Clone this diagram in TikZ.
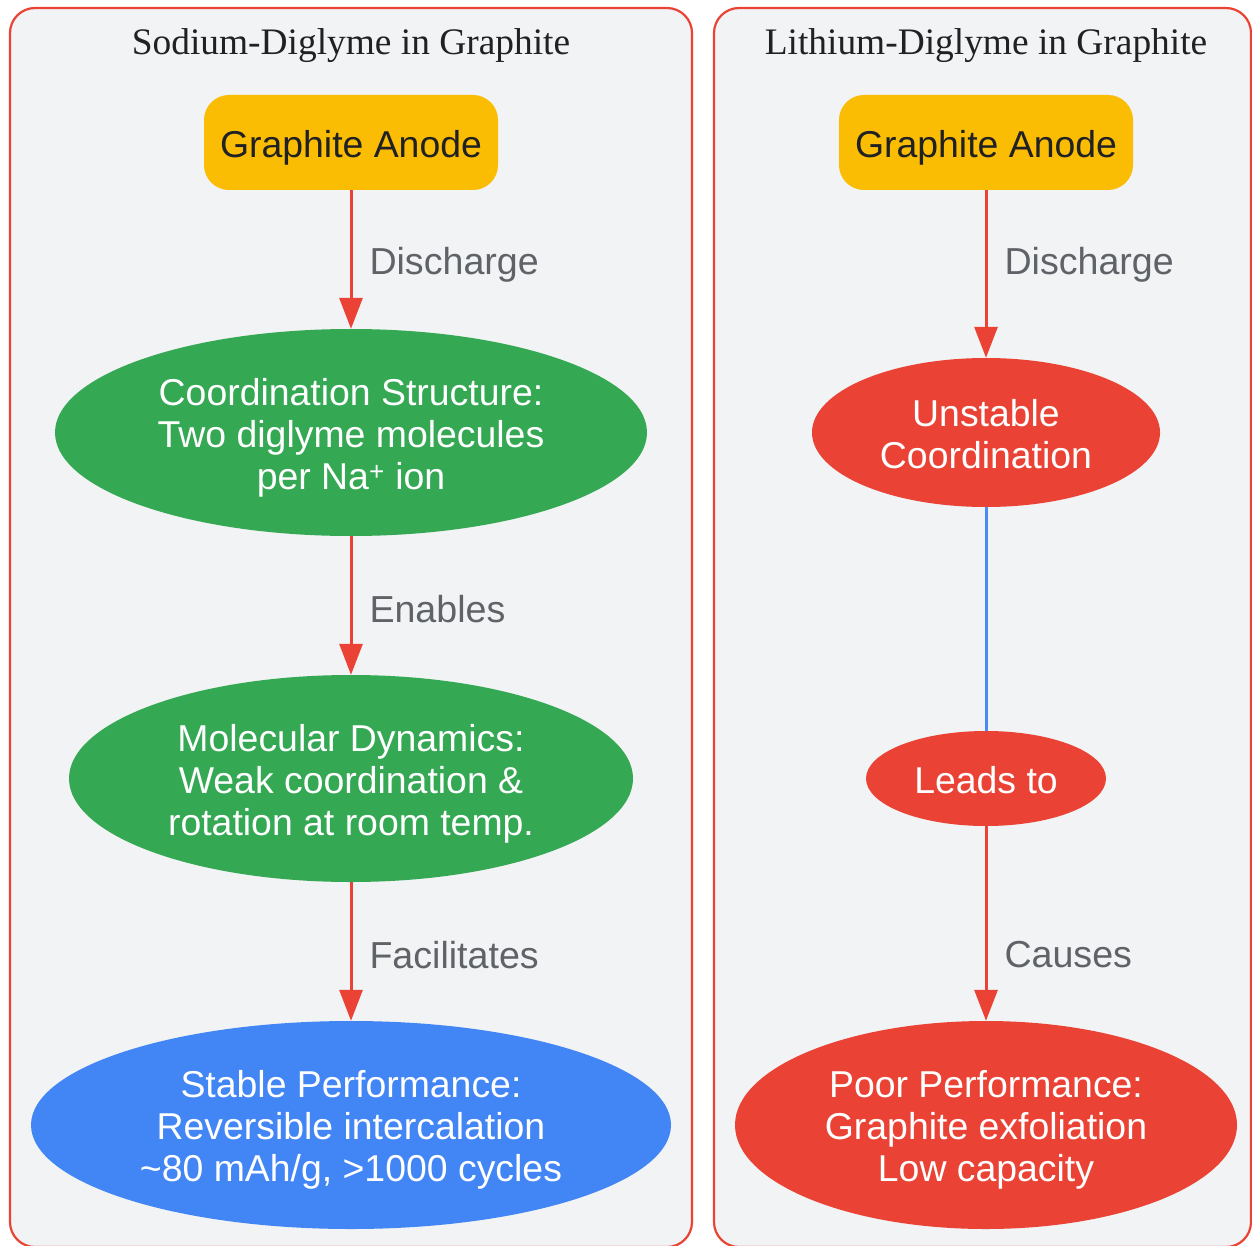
\documentclass[tikz,border=0pt]{standalone}
\usepackage{fontspec}
\setmainfont{Liberation Sans}
\newfontfamily\titlefont{Liberation Serif}
\usetikzlibrary{shapes.geometric,arrows.meta}
\definecolor{gred}{HTML}{EA4335}
\definecolor{ggreen}{HTML}{34A853}
\definecolor{gblue}{HTML}{4285F4}
\definecolor{gyellow}{HTML}{FBBC04}
\definecolor{clusterbg}{HTML}{F1F3F4}
\definecolor{labelgray}{HTML}{5F6368}
\definecolor{darktext}{HTML}{202124}
\definecolor{linkblue}{HTML}{4A8AF4}
\newcommand{\tstrut}{\rule{0pt}{37pt}}
\newcommand{\bstrut}{\rule[-7.9pt]{0pt}{7.9pt}}
\tikzset{
  cluster/.style={draw=gred, line width=2.2pt, fill=clusterbg, rounded corners=25pt},
  ctitle/.style={font=\titlefont\fontsize{37.4}{42}\selectfont, text=darktext, inner sep=0pt},
  anode/.style={rectangle, rounded corners=25pt, fill=gyellow, text=darktext,
    minimum width=294pt, minimum height=95pt, inner sep=0pt,
    font=\fontsize{37.4}{42}\selectfont},
  ell/.style={ellipse, inner sep=0pt, text=white, align=center,
    font=\fontsize{37.4}{42}\selectfont},
  flow/.style={draw=gred, line width=3pt, -{Triangle[length=31pt,width=23pt]}},
  plain/.style={draw=linkblue, line width=3pt},
  elabel/.style={anchor=west, inner sep=0pt, xshift=17pt, yshift=-4pt, text=labelgray,
    text height=27.4pt, text depth=7.9pt,
    font=\fontsize{37.6}{42}\selectfont},
}
\begin{document}
\begin{tikzpicture}[x=1pt,y=-1pt]
\useasboundingbox (0,0) rectangle (1252,1246);
\clip (0,0) rectangle (1252,1246);
\fill[white] (0,0) rectangle (1252,1246);
% clusters
\draw[cluster] (10,8) rectangle (692,1247);
\draw[cluster] (714,8) rectangle (1251,1247);
\node[ctitle] (t1) at (351,46) {Sodium-Diglyme in Graphite};
\node[ctitle] (t2) at (986,46) {Lithium-Diglyme in Graphite};
% left column
\node[anode] (ga1) at (351,142.5) {\tstrut Graphite Anode\bstrut};
\node[ell, fill=ggreen, minimum width=592pt, minimum height=207pt] (cs) at (351,432.5)
  {\tstrut Coordination Structure:\\Two diglyme molecules\\per Na\textsuperscript{+} ion\bstrut};
\node[ell, fill=ggreen, minimum width=564pt, minimum height=207pt] (md) at (351,778.5)
  {\tstrut Molecular Dynamics:\\Weak coordination \&\\rotation at room temp.\bstrut};
\node[ell, fill=gblue, minimum width=640pt, minimum height=208pt] (sp) at (351,1125)
  {\tstrut Stable Performance:\\Reversible intercalation\\\textasciitilde 80 mAh/g, >1000 cycles\bstrut};
% right column
\node[anode] (ga2) at (986,142.5) {\tstrut Graphite Anode\bstrut};
\node[ell, fill=gred, minimum width=348pt, minimum height=149pt] (uc) at (986,432.5)
  {\tstrut Unstable\\Coordination\bstrut};
\node[ell, fill=gred, minimum width=240pt, minimum height=95pt] (lt) at (986,778.5)
  {\tstrut Leads to\bstrut};
\node[ell, fill=gred, minimum width=502pt, minimum height=208pt] (pp) at (986,1125)
  {\tstrut Poor Performance:\\Graphite exfoliation\\Low capacity\bstrut};
% edges
\draw[flow] (ga1) -- node[elabel, pos=0.51] {Discharge} (cs);
\draw[flow] (cs) -- node[elabel, pos=0.52] {Enables} (md);
\draw[flow] (md) -- node[elabel, pos=0.52] {Facilitates} (sp);
\draw[flow] (ga2) -- node[elabel, pos=0.42] {Discharge} (uc);
\draw[plain] (uc) -- (lt);
\draw[flow] (lt) -- node[elabel, pos=0.656] {Causes} (pp);
\end{tikzpicture}
\end{document}
